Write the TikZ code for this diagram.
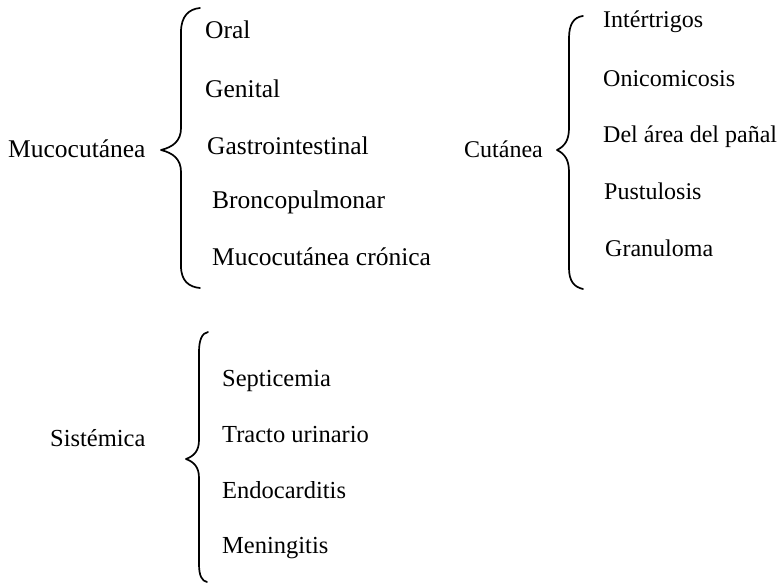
\documentclass[tikz,border=0pt]{standalone}
\usepackage{fontspec}
\setmainfont{Liberation Serif}
\begin{document}
\begin{tikzpicture}[x=1pt,y=-1pt,
  lbl/.style={inner sep=0pt,anchor=base west,font=\fontsize{25.5}{30}\selectfont},
  blbl/.style={inner sep=0pt,anchor=base west,font=\fontsize{24.5}{29}\selectfont},
  rlbl/.style={inner sep=0pt,anchor=base west,font=\fontsize{24}{29}\selectfont},
  bracepath/.style={line width=1.7pt,line cap=round,line join=round}]
\useasboundingbox (0,0) rectangle (780,584);
% --- Mucocutanea group
\node[lbl] (muco) at (8,157) {Mucocutánea};
\draw[bracepath] (200,8) .. controls (189,9) and (181,16) .. (181,32) -- (181,128)
  .. controls (181,141) and (173,147) .. (161,150)
  .. controls (173,153) and (181,159) .. (181,172) -- (181,266)
  .. controls (181,281) and (189,287) .. (200,288);
\node[lbl] (oral) at (205,38) {Oral};
\node[lbl] (gen) at (205,97) {Genital};
\node[lbl] (gastro) at (207,154) {Gastrointestinal};
\node[lbl] (bronco) at (212,208) {Broncopulmonar};
\node[lbl] (mcron) at (212,265) {Mucocutánea crónica};
% --- Cutanea group
\node[rlbl] (cut) at (464,157) {Cutánea};
\draw[bracepath] (583,16) .. controls (574,17) and (569,24) .. (569,38) -- (569,128)
  .. controls (569,140) and (565,146) .. (557,150)
  .. controls (565,154) and (569,160) .. (569,172) -- (569,268)
  .. controls (569,281) and (574,287) .. (583,289);
\node[rlbl] (inter) at (603,27) {Intértrigos};
\node[rlbl] (onico) at (603,86) {Onicomicosis};
\node[rlbl] (panal) at (603,142) {Del área del pañal};
\node[rlbl] (pust) at (604,199) {Pustulosis};
\node[rlbl] (gran) at (605,256) {Granuloma};
% --- Sistemica group
\node[blbl] (sist) at (50,446) {Sistémica};
\draw[bracepath] (208,332) .. controls (202,333) and (199,340) .. (199,352) -- (199,440)
  .. controls (199,451) and (194,456) .. (186,459)
  .. controls (194,462) and (199,467) .. (199,478) -- (199,564)
  .. controls (199,576) and (202,581) .. (207,582);
\node[blbl] (septi) at (222,386) {Septicemia};
\node[blbl] (tracto) at (222,442) {Tracto urinario};
\node[blbl] (endo) at (222,498) {Endocarditis};
\node[blbl] (menin) at (222,553) {Meningitis};
\end{tikzpicture}
\end{document}
